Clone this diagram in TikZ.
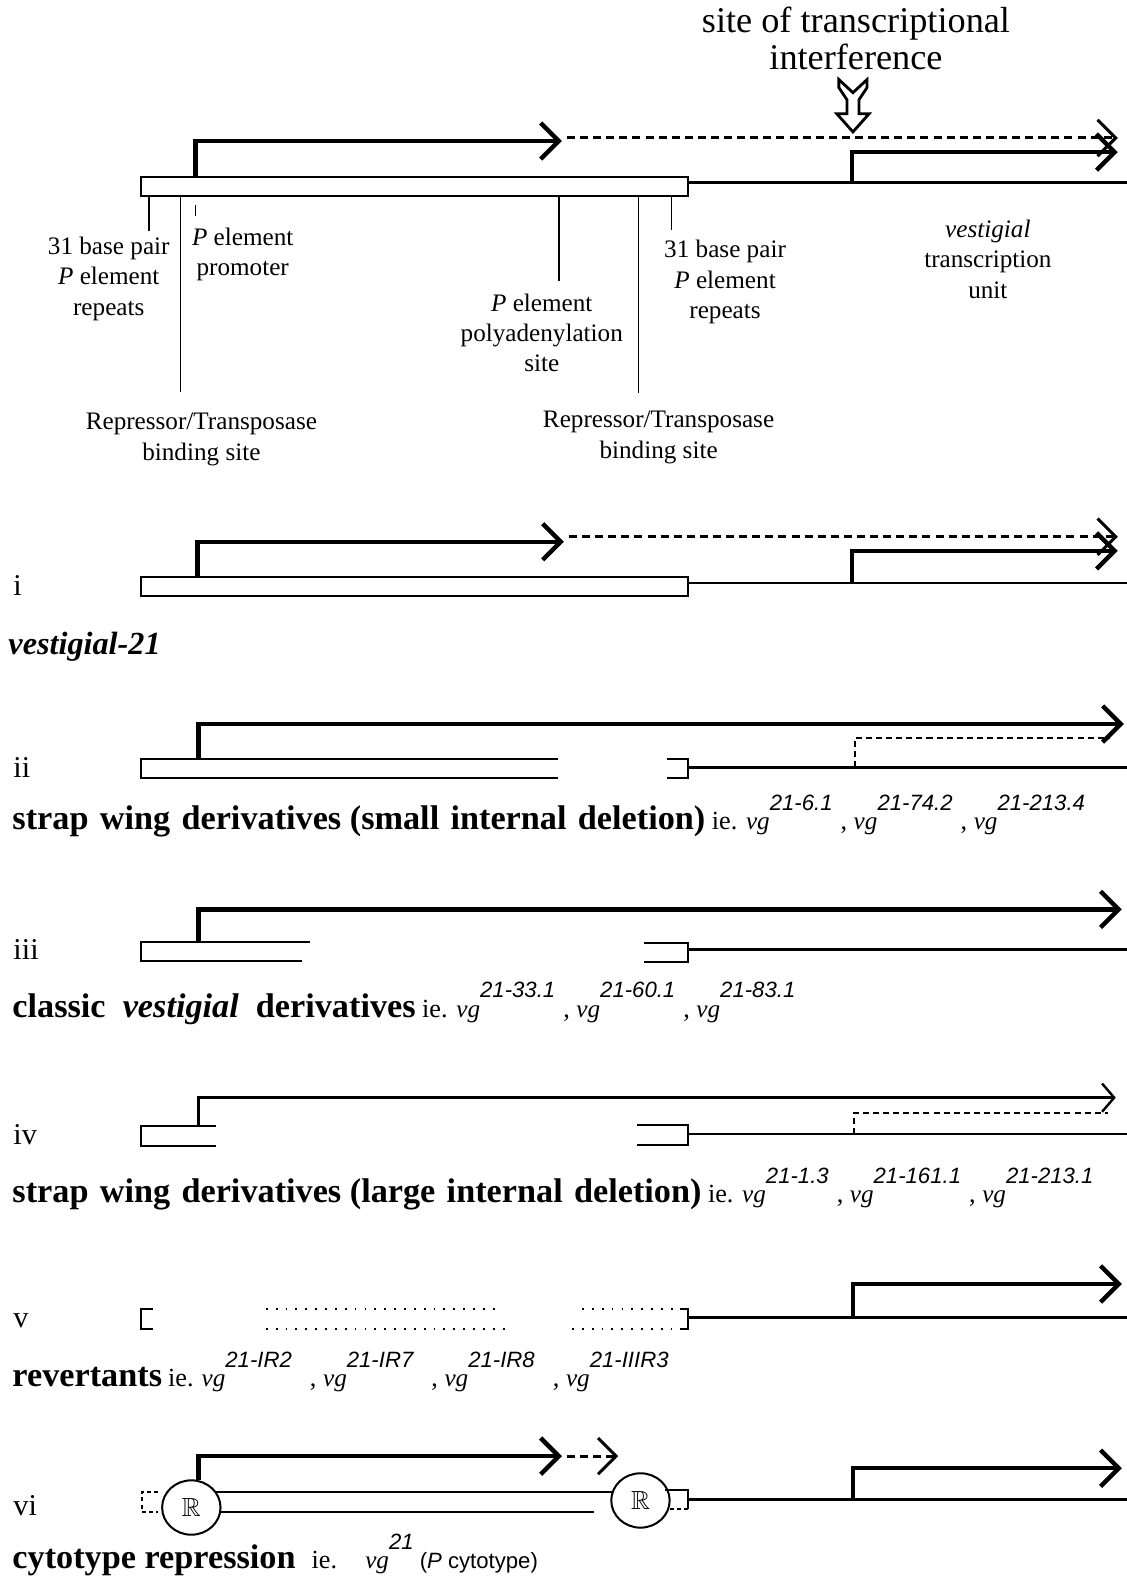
\documentclass[tikz,border=0pt]{standalone}
\usepackage{fontspec}
\usepackage{amssymb}
\setmainfont{Liberation Serif}
\newfontfamily\supfont{Liberation Sans}
\usetikzlibrary{arrows.meta, shapes.geometric}
\newcommand{\capbf}[1]{{\fontsize{17}{20}\selectfont\bfseries #1}}
\newcommand{\wsp}{\hspace{0.33em}}
\newcommand{\vgal}[1]{{\fontsize{12.5}{14}\selectfont\itshape vg}\raisebox{9.5pt}{\supfont\itshape\fontsize{11}{12}\selectfont #1}}
\newcommand{\vgsep}{\hspace{4pt},\ }

\begin{document}
\begin{tikzpicture}[x = 0.5pt, y = -0.5pt,
	every node/.style = {inner sep = 0pt},
	lbl/.style = {align = center, anchor = base, font = \fontsize{12.5}{15}\selectfont},
	rowlbl/.style = {anchor = base west, font = \fontsize{15}{18}\selectfont},
	caption/.style = {anchor = base west, font = \fontsize{13}{16}\selectfont},
	chev/.style = {-{Straight Barb[length = 9pt, width = 18pt]}},
	tx/.style = {line width = 2.2pt, chev},
	readthru/.style = {line width = 1.5pt, dash pattern = on 4pt off 2.5pt},
	dashtx/.style = {line width = 1.2pt, dash pattern = on 3pt off 2pt},
	gene/.style = {line width = 1.4pt},
	pbox/.style = {line width = 1pt},
	tick/.style = {line width = 0.7pt},
	dots/.style = {line width = 0.9pt, dash pattern = on 0.9pt off 4pt},
	rbind/.style = {ellipse, draw, fill = white, line width = 1pt, minimum width = 29pt, minimum height = 27pt, font = \fontsize{13}{14}\selectfont}]

	\useasboundingbox (0, 0) rectangle (1119, 1568);

	\node (TITLE) at (850, 69) [lbl, font = \fontsize{18}{18.5}\selectfont] {site of transcriptional \\ interference};
	\draw [line width = 1.4pt, fill = white] (833, 79) -- (847, 92) -- (861, 79) -- (861, 87) -- (853, 99) -- (853, 113) -- (863, 113) -- (847, 131) -- (831, 113) -- (841, 113) -- (841, 99) -- (833, 87) -- cycle;

	\draw [pbox] (140, 176) rectangle (683, 195);
	\draw [gene] (683, 181) -- (1119, 181);
	\draw [tx] (194, 176) -- (194, 140) -- (558, 140);
	\draw [readthru, chev] (563, 137) -- (1110, 137);
	\draw [tx] (846, 181) -- (846, 151) -- (1110, 151);

	\foreach \xt/\yb in {148/229, 179/389, 555/279, 634/390, 667/228}
		\draw [tick] (\xt, 196) -- (\xt, \yb);
	\draw [tick] (194, 204) -- (194, 214);

	\node (REPL)  at (108, 313) [lbl] {31 base pair \\ \textit{P} element \\ repeats};
	\node (PPROM) at (241, 274) [lbl] {\textit{P} element \\ promoter};
	\node (PPOLY) at (538, 369) [lbl] {\textit{P} element \\ polyadenylation \\ site};
	\node (REPR)  at (720, 316) [lbl] {31 base pair \\ \textit{P} element \\ repeats};
	\node (VTU)   at (981, 296) [lbl] {\textit{vestigial} \\ transcription \\ unit};
	\node (RTBL)  at (200, 457) [lbl] {Repressor/Transposase \\ binding site};
	\node (RTBR)  at (654, 455) [lbl] {Repressor/Transposase \\ binding site};

	\foreach \nm/\yb in {I/591, II/772, III/953, IV/1137, V/1318, VI/1505}
		\node (ROW\nm) at (13, \yb) [rowlbl] {\MakeLowercase{\nm}};

	\draw [pbox] (140, 573) rectangle (683, 592);
	\draw [gene] (683, 579) -- (1119, 579);
	\draw [tx] (196, 573) -- (196, 538) -- (560, 538);
	\draw [readthru, chev] (565, 533) -- (1110, 533);
	\draw [tx] (846, 579) -- (846, 547) -- (1110, 547);
	\node (V21) at (8, 650) [anchor = base west, font = \fontsize{16}{18}\selectfont\bfseries\itshape] {vestigial-21};

	\draw [pbox] (554, 754) -- (140, 754) -- (140, 773) -- (554, 773);
	\draw [pbox] (662, 754) -- (683, 754) -- (683, 773) -- (662, 773);
	\draw [gene] (683, 762) -- (1119, 762);
	\draw [dashtx] (849, 762) -- (849, 733) -- (1102, 733);
	\draw [tx] (197, 754) -- (197, 719) -- (1116, 719);
	\node (CAPII) at (12, 824) [caption] {\capbf{strap\wsp wing\wsp derivatives (small\wsp internal\wsp deletion)} ie. \vgal{21-6.1}\vgsep\vgal{21-74.2}\vgsep\vgal{21-213.4}};

	\draw [pbox] (308, 935) -- (140, 935) -- (140, 954) -- (300, 954);
	\draw [pbox] (640, 936) -- (683, 936) -- (683, 955) -- (640, 955);
	\draw [gene] (683, 943) -- (1119, 943);
	\draw [tx] (197, 935) -- (197, 903) -- (1114, 903);
	\node (CAPIII) at (12, 1010) [caption] {\capbf{classic\hspace{0.5em}\textit{vestigial}\hspace{0.5em}derivatives} ie. \vgal{21-33.1}\vgsep\vgal{21-60.1}\vgsep\vgal{21-83.1}};

	\draw [pbox] (214, 1118) -- (140, 1118) -- (140, 1138) -- (214, 1138);
	\draw [pbox] (633, 1117) -- (683, 1117) -- (683, 1137) -- (633, 1137);
	\draw [gene] (683, 1126) -- (1119, 1126);
	\draw [line width = 1.2pt, -{Straight Barb[length = 6pt, width = 14pt]}] (197, 1118) -- (197, 1090) -- (1108, 1090);
	\draw [dashtx] (848, 1126) -- (848, 1105) -- (1100, 1105);
	\node (CAPIV) at (12, 1194) [caption] {\capbf{strap\wsp wing\wsp derivatives (large\wsp internal\wsp deletion)} ie. \vgal{21-1.3}\vgsep\vgal{21-161.1}\vgsep\vgal{21-213.1}};

	\draw [pbox] (152, 1300) -- (140, 1300) -- (140, 1320) -- (152, 1320);
	\draw [dots] (264, 1300) -- (494, 1300) (264, 1320) -- (503, 1320) (578, 1300) -- (675, 1300) (568, 1320) -- (675, 1320);
	\draw [pbox] (675, 1300) -- (683, 1300) -- (683, 1320) -- (675, 1320);
	\draw [gene] (683, 1308) -- (1119, 1308);
	\draw [tx] (847, 1308) -- (847, 1275) -- (1114, 1275);
	\node (CAPV) at (12, 1377) [caption] {\capbf{revertants}\hspace{3pt}ie.\hspace{4pt}\vgal{21-IR2}\hspace{9pt},\ \vgal{21-IR7}\hspace{9pt},\ \vgal{21-IR8}\hspace{9pt},\ \vgal{21-IIIR3}};

	\draw [pbox, dash pattern = on 2pt off 1.5pt] (157, 1482) -- (141, 1482) -- (141, 1501) -- (157, 1501);
	\draw [pbox] (200, 1482) -- (620, 1482) (200, 1501) -- (590, 1501);
	\node (RL) at (190, 1497) [rbind] {$\mathbb{R}$};
	\node (RR) at (636, 1490) [rbind] {$\mathbb{R}$};
	\draw [pbox] (660, 1480) -- (683, 1480) -- (683, 1498);
	\draw [pbox, dash pattern = on 2pt off 1.5pt] (683, 1498) -- (665, 1498);
	\draw [gene] (683, 1489) -- (1119, 1489);
	\draw [tx] (197, 1470) -- (197, 1446) -- (558, 1446);
	\draw [readthru, chev] (563, 1446) -- (614, 1446);
	\draw [tx] (847, 1489) -- (847, 1458) -- (1114, 1458);
	\node (CAPVI) at (12, 1558) [caption] {\capbf{cytotype repression}\hspace{8pt}ie.\hspace{14pt}\vgal{21}\hspace{3pt}{\supfont\fontsize{11}{12}\selectfont(\textit{P} cytotype)}};
\end{tikzpicture}
\end{document}
